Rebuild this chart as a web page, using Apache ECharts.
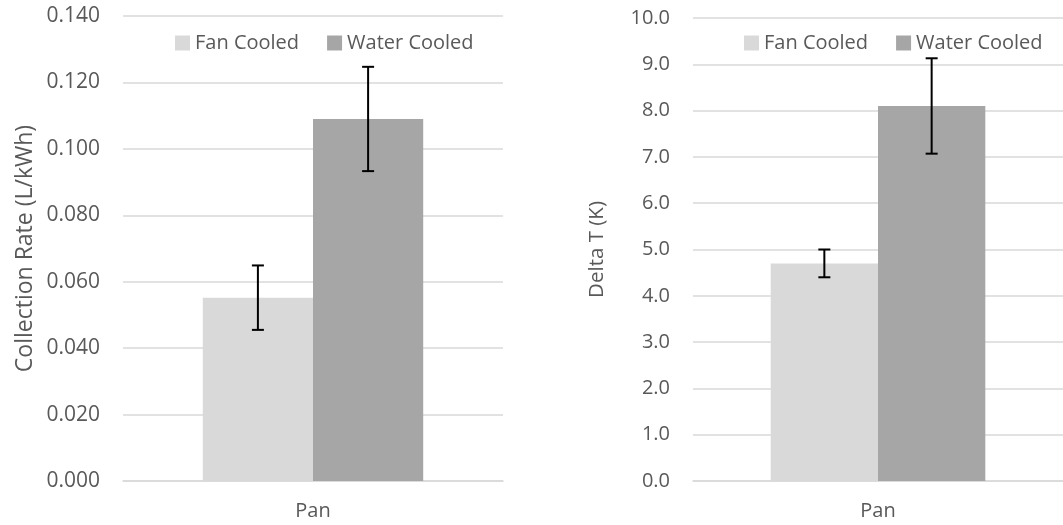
<!DOCTYPE html>
<html>
<head>
<meta charset="utf-8">
<title>Collection Rate and Delta T</title>
<script src="https://cdn.jsdelivr.net/npm/echarts@6/dist/echarts.min.js"></script>
<style>
  html, body { margin: 0; padding: 0; background: #ffffff; }
  #chart { width: 1063px; height: 525px; }
</style>
</head>
<body>
<div id="chart"></div>
<script>
// Shared category and series names
const categories = ['Pan'];
const seriesNames = ['Fan Cooled', 'Water Cooled'];
const seriesColors = ['#D9D9D9', '#A6A6A6'];

// Collection rate (L/kWh): means and error half-widths
const rateFan = [0.0552];
const rateWater = [0.1090];
const rateFanErr = [0.0097];
const rateWaterErr = [0.0157];
const rateTicks = { min: 0, max: 0.14, interval: 0.02 };

// Delta T (K): means and error half-widths
const dtFan = [4.70];
const dtWater = [8.10];
const dtFanErr = [0.30];
const dtWaterErr = [1.03];
const dtTicks = { min: 0, max: 10, interval: 1 };

const FONT = 'Open Sans';
const TEXT = '#595959';
const GAP = 0.42; // barCategoryGap fraction

// Error bar drawn at the centre of one bar within a two-bar group
function errorSeries(xi, yi, means, errs, slot) {
  const data = means.map((m, i) => [i, m - errs[i], m + errs[i]]);
  return {
    type: 'custom',
    xAxisIndex: xi,
    yAxisIndex: yi,
    silent: true,
    z: 10,
    data: data,
    renderItem: function (params, api) {
      const band = api.size([1, 0])[0];
      const barW = band * (1 - GAP) / 2;
      const base = api.coord([api.value(0), api.value(1)]);
      const top = api.coord([api.value(0), api.value(2)]);
      const x = base[0] + (slot === 0 ? -barW / 2 : barW / 2);
      const cap = 6;
      const style = { stroke: '#000000', lineWidth: 2 };
      return {
        type: 'group',
        children: [
          { type: 'line', shape: { x1: x, y1: top[1], x2: x, y2: base[1] }, style: style },
          { type: 'line', shape: { x1: x - cap, y1: top[1], x2: x + cap, y2: top[1] }, style: style },
          { type: 'line', shape: { x1: x - cap, y1: base[1], x2: x + cap, y2: base[1] }, style: style }
        ]
      };
    }
  };
}

function barSeries(name, color, xi, yi, values) {
  return {
    name: name,
    type: 'bar',
    xAxisIndex: xi,
    yAxisIndex: yi,
    data: values,
    barGap: '0%',
    barCategoryGap: (GAP * 100) + '%',
    itemStyle: { color: color },
    emphasis: { disabled: true }
  };
}

function xAxisDef(gi) {
  return {
    type: 'category',
    gridIndex: gi,
    data: categories,
    axisLine: { show: true, lineStyle: { color: '#D9D9D9', width: 1.5 } },
    axisTick: { show: false },
    axisLabel: { color: TEXT, fontFamily: FONT, fontSize: 20, margin: 20 }
  };
}

function yAxisDef(gi, ticks, name, digits, labelSize, nameSize, gap) {
  return {
    type: 'value',
    gridIndex: gi,
    min: ticks.min,
    max: ticks.max,
    interval: ticks.interval,
    name: name,
    nameLocation: 'middle',
    nameGap: gap,
    nameTextStyle: { color: TEXT, fontFamily: FONT, fontSize: nameSize },
    axisLine: { show: false },
    axisTick: { show: false },
    axisLabel: {
      color: TEXT, fontFamily: FONT, fontSize: labelSize, margin: 23,
      formatter: v => v.toFixed(digits)
    },
    splitLine: { lineStyle: { color: '#D9D9D9', width: 1.5 } }
  };
}

function legendDef(left) {
  return {
    data: seriesNames,
    top: 28,
    left: left,
    itemWidth: 15,
    itemHeight: 15,
    itemGap: 28,
    icon: 'rect',
    selectedMode: false,
    textStyle: { color: TEXT, fontFamily: FONT, fontSize: 20 }
  };
}

const chart = echarts.init(document.getElementById('chart'), null, { renderer: 'canvas' });
chart.setOption({
  animation: false,
  backgroundColor: '#ffffff',
  legend: [legendDef(170), legendDef(739)],
  grid: [
    { left: 123, top: 16, width: 380, height: 465 },
    { left: 693, top: 18, width: 380, height: 463 }
  ],
  xAxis: [xAxisDef(0), xAxisDef(1)],
  yAxis: [
    yAxisDef(0, rateTicks, 'Collection Rate (L/kWh)', 3, 21, 23, 86),
    yAxisDef(1, dtTicks, 'Delta T (K)', 1, 20, 20.5, 85)
  ],
  series: [
    barSeries(seriesNames[0], seriesColors[0], 0, 0, rateFan),
    barSeries(seriesNames[1], seriesColors[1], 0, 0, rateWater),
    errorSeries(0, 0, rateFan, rateFanErr, 0),
    errorSeries(0, 0, rateWater, rateWaterErr, 1),
    barSeries(seriesNames[0], seriesColors[0], 1, 1, dtFan),
    barSeries(seriesNames[1], seriesColors[1], 1, 1, dtWater),
    errorSeries(1, 1, dtFan, dtFanErr, 0),
    errorSeries(1, 1, dtWater, dtWaterErr, 1)
  ]
});
</script>
</body>
</html>
